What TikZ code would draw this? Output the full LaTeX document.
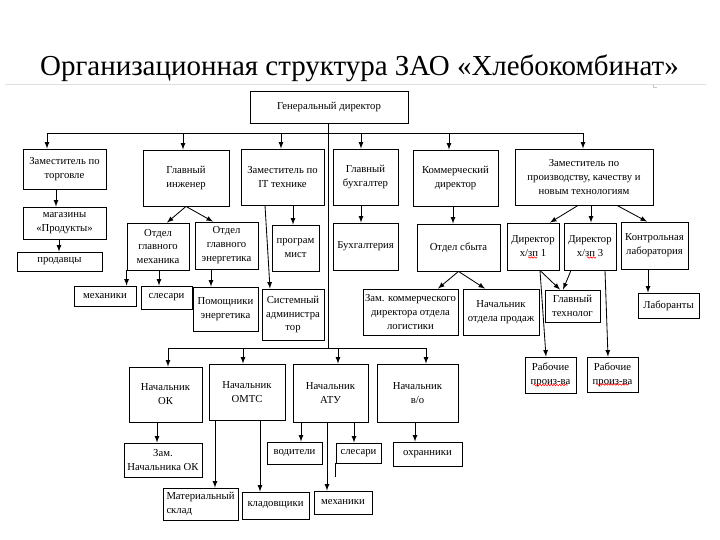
\documentclass[tikz,border=0pt]{standalone}
\usepackage{fontspec}
\setmainfont{Liberation Serif}
\usepackage{tikz}
\usetikzlibrary{calc, positioning, decorations.pathmorphing}

\begin{document}
\begin{tikzpicture}[>=latex, x=0.25mm, y=-0.25mm, line width=0.6pt,
    box/.style={draw, align=center, inner sep=1pt, font=\fontsize{7.6}{9.9}\selectfont},
    sz/.style 2 args={minimum width=#1*0.25mm, minimum height=#2*0.25mm},
    spell/.style={red, line width=0.4pt, decorate, decoration={snake, amplitude=0.5pt, segment length=2pt}}]
    % 1. Фон и заголовок
    \useasboundingbox (0,0) rectangle (720,540);
    \fill[white] (0,0) rectangle (720,540);
    \node[anchor=base, inner sep=0pt, font=\fontsize{20.6}{24}\selectfont] (title) at (359.5,75) {Организационная структура ЗАО «Хлебокомбинат»};
    \draw[gray!25, line width=0.4pt] (5,84) -- (706,84);
    \draw[gray!45, line width=0.4pt] (653,85) -- (653,87) -- (657,87);

    % 2. Генеральный директор и шины
    \node[box, sz={158}{32}] (gd) at (329,107) {Генеральный директор};
    \coordinate (tbL) at (47,133);
    \coordinate (tbR) at (583,133);
    \coordinate (bb) at (328,348);
    \coordinate (bbL) at (168,348);
    \coordinate (bbR) at (426,348);
    \draw (tbL) -- (tbR);
    \draw (gd.south -| bb) -- (bb);
    \draw (bbL) -- (bbR);

    % 3. Заместители и директора
    \node[box, sz={83}{40}] (zt) at (64.5,169) {Заместитель по\\торговле};
    \node[box, sz={86}{56}] (gi) at (186,178) {Главный\\инженер};
    \node[box, sz={83}{56}] (zit) at (282.5,177) {Заместитель по\\IT технике};
    \node[box, sz={65}{56}] (gb) at (365.5,177) {Главный\\бухгалтер};
    \node[box, sz={85}{56}] (kd) at (455.5,178) {Коммерческий\\директор};
    \node[box, sz={138}{56}] (zp) at (584,177) {Заместитель по\\производству, качеству и\\новым технологиям};

    % 4. Отделы
    \node[box, sz={83}{32}] (mag) at (64.5,223) {магазины\\«Продукты»};
    \node[box, sz={85}{19}] (prod) at (59.5,261.5) {продавцы};
    \node[box, sz={62}{47}] (ogm) at (158,246.5) {Отдел\\главного\\механика};
    \node[box, sz={63}{47}] (oge) at (226.5,245.5) {Отдел\\главного\\энергетика};
    \node[box, sz={47}{46}] (prg) at (295.5,248) {програм\\мист};
    \node[box, sz={65}{47}] (buh) at (365.5,246.5) {Бухгалтерия};
    \node[box, sz={83}{47}] (osb) at (458.5,247.5) {Отдел сбыта};
    \node[box, sz={52}{47}] (dz1) at (533,246.5) {Директор\\х/зп 1};
    \node[box, sz={52}{47}] (dz3) at (590,246.5) {Директор\\х/зп 3};
    \node[box, sz={67}{47}] (kl) at (654.5,245.5) {Контрольная\\лаборатория};

    % 5. Исполнители
    \node[box, sz={62}{20}] (mekh) at (105,296) {механики};
    \node[box, sz={51}{23}] (sles) at (166.5,297.5) {слесари};
    \node[box, sz={65}{44}] (pom) at (225.5,309) {Помощники\\энергетика};
    \node[box, sz={62}{51}] (sys) at (293,314.5) {Системный\\администра\\тор};
    \node[box, sz={95}{46}] (zkl) at (410.5,312) {Зам. коммерческого\\директора отдела\\логистики};
    \node[box, sz={76}{46}] (nop) at (501,312) {Начальник\\отдела продаж};
    \node[box, sz={55}{32}] (gt) at (572.5,306) {Главный\\технолог};
    \node[box, sz={61}{25}] (lab) at (668.5,305.5) {Лаборанты};
    \node[box, sz={51}{36}] (rp1) at (550.5,375) {Рабочие\\произ-ва};
    \node[box, sz={51}{35}] (rp2) at (612.5,374.5) {Рабочие\\произ-ва};

    % 6. Начальники служб
    \node[box, sz={73}{55}] (nok) at (165.5,394.5) {Начальник\\ОК};
    \node[box, sz={76}{56}] (nomts) at (247,392) {Начальник\\ОМТС};
    \node[box, sz={75}{58}] (natu) at (330.5,393) {Начальник\\АТУ};
    \node[box, sz={81}{58}] (nvo) at (417.5,393) {Начальник\\в/о};

    \node[box, sz={78}{34}] (znok) at (163,460) {Зам.\\Начальника ОК};
    \node[box, sz={75}{32}, align=left, text width=17mm] (msk) at (200.5,504) {Материальный\\склад};
    \node[box, sz={67}{27}] (klad) at (275.5,505.5) {кладовщики};
    \node[box, sz={55}{22}] (vod) at (294.5,453) {водители};
    \node[box, sz={45}{20}] (sles2) at (358.5,453) {слесари};
    \node[box, sz={58}{23}] (mekh2) at (343,502.5) {механики};
    \node[box, sz={69}{24}] (ohr) at (427.5,454) {охранники};
    \draw (sles2.south west) -- ++(0,14);

    % 7. Стрелки от шин
    \foreach \n/\xx in {zt/47, gi/183, zit/281, gb/361, kd/449, zp/583}
        \draw[->] (tbL -| \xx,0) -- (\n.north -| \xx,0);
    \foreach \n/\xx in {nok/168, nomts/243, natu/338, nvo/426}
        \draw[->] (bbL -| \xx,0) -- (\n.north -| \xx,0);

    % 8. Стрелки между блоками
    \draw[->] (zt.south -| 56,0) -- (mag.north -| 56,0);
    \draw[->] (mag.south -| 59,0) -- (prod.north -| 59,0);
    \draw[->] (gi.south) -- (ogm.north -| 167,0);
    \draw[->] (gi.south) -- (oge.north -| 213,0);
    \draw[->] (zit.south -| 293,0) -- (prg.north -| 293,0);
    \draw[->] (zit.south -| 265,0) -- (sys.north -| 270,0);
    \draw[->] (gb.south -| 361,0) -- (buh.north -| 361,0);
    \draw[->] (kd.south -| 453,0) -- (osb.north -| 453,0);
    \draw[->] (zp.south -| 578,0) -- (dz1.north -| 550,0);
    \draw[->] (zp.south -| 591,0) -- (dz3.north -| 591,0);
    \draw[->] (zp.south -| 617,0) -- (kl.north -| 647,0);
    \draw[->] (ogm.south west) -- (ogm.south west |- mekh.north);
    \draw[->] (ogm.south -| 159,0) -- (sles.north -| 159,0);
    \draw[->] (oge.south -| 211,0) -- (pom.north -| 211,0);
    \draw[->] (osb.south) -- (zkl.north -| 438,0);
    \draw[->] (osb.south) -- (nop.north -| 485,0);
    \draw[->] (dz1.south -| 540,0) -- (gt.north -| 560,0);
    \draw[->] (dz3.south -| 571,0) -- (gt.north -| 563,0);
    \draw[->] (dz1.south -| 540,0) -- (rp1.north -| 546,0);
    \draw[->] (dz3.south -| 605,0) -- (rp2.north -| 608,0);
    \draw[->] (kl.south -| 648,0) -- (lab.north -| 648,0);

    \draw[->] (nok.south -| 157,0) -- (znok.north -| 157,0);
    \draw[->] (nomts.south -| 215,0) -- (msk.north -| 215,0);
    \draw[->] (nomts.south -| 260,0) -- (klad.north -| 260,0);
    \draw[->] (natu.south -| 301,0) -- (vod.north -| 301,0);
    \draw[->] (natu.south -| 327,0) -- (mekh2.north -| 327,0);
    \draw[->] (natu.south -| 354,0) -- (sles2.north -| 354,0);
    \draw[->] (nvo.south -| 415,0) -- (ohr.north -| 415,0);

    % 9. Подчёркивания
    \draw[spell] ($(dz1.center)+(-5,11)$) -- ++(9,0);
    \draw[spell] ($(dz3.center)+(-3,11)$) -- ++(9,0);
    \draw[spell] ($(rp1.center)+(-17,10)$) -- ++(34,0);
    \draw[spell] ($(rp2.center)+(-16,10)$) -- ++(32,0);
\end{tikzpicture}
\end{document}
